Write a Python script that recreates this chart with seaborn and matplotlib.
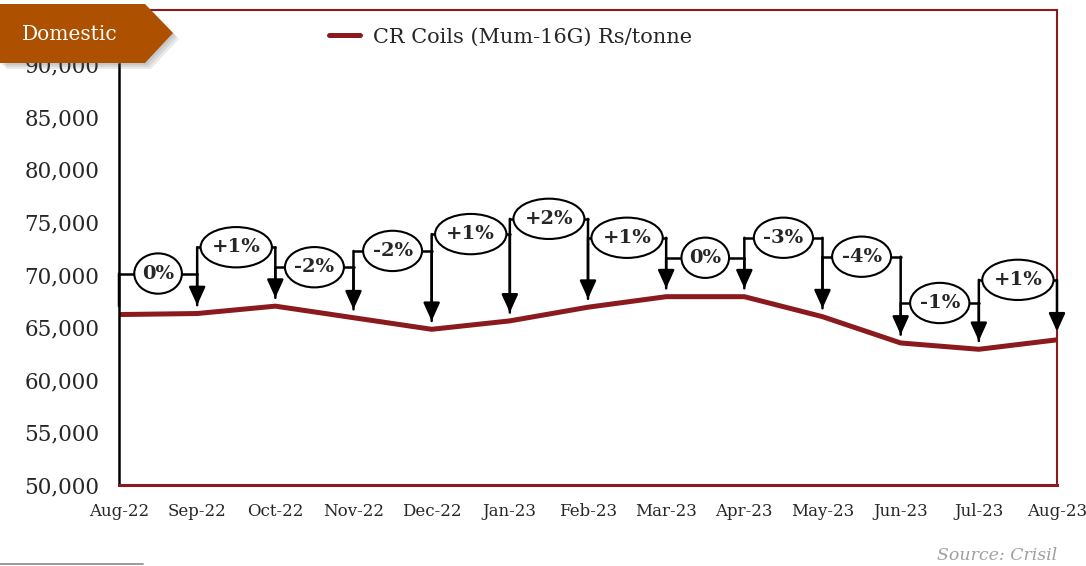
import pandas as pd
import matplotlib
matplotlib.use("Agg")
import matplotlib.pyplot as plt
from matplotlib.patches import Polygon
from matplotlib.lines import Line2D
from matplotlib.path import Path
from matplotlib.transforms import Affine2D
import seaborn as sns

# --- data ---
months = ["Aug-22", "Sep-22", "Oct-22", "Nov-22", "Dec-22", "Jan-23", "Feb-23",
          "Mar-23", "Apr-23", "May-23", "Jun-23", "Jul-23", "Aug-23"]
prices = [66200, 66300, 67000, 65900, 64800, 65600, 66900,
          67900, 67900, 66000, 63500, 62900, 63800]
change_labels = ["0%", "+1%", "-2%", "-2%", "+1%", "+2%",
                 "+1%", "0%", "-3%", "-4%", "-1%", "+1%"]
# height (on the price scale) at which each month-on-month bracket sits
bracket_levels = [70100, 72600, 70700, 72250, 73850, 75300,
                  73500, 71600, 73500, 71700, 67300, 69500]
y_ticks = [50000, 55000, 60000, 65000, 70000, 75000, 80000, 85000, 90000]

maroon = "#8B1A1F"
banner = "#AD5000"

sns.set_style("white")
plt.rcParams['font.family'] = ['DejaVu Serif']


def oval_box(x0, y0, width, height, mutation_size, padx=0.04, pady=0.27):
    # ellipse around the text, with separate x / y padding
    w = width + 2 * padx * mutation_size
    h = height + 2 * pady * mutation_size
    a, b = w / 2 ** 0.5, h / 2 ** 0.5
    tr = Affine2D().scale(a, b).translate(x0 + width / 2, y0 + height / 2)
    return tr.transform_path(Path.unit_circle())


df = pd.DataFrame({"idx": range(len(months)), "price": prices})

fig = plt.figure(figsize=(10.86, 5.66), dpi=100)
ax = fig.add_axes([119 / 1086, 1 - 485 / 566, (1057 - 119) / 1086, (485 - 10) / 566])

sns.lineplot(data=df, x="idx", y="price", ax=ax, color=maroon, lw=3.6,
             label="CR Coils (Mum-16G) Rs/tonne", zorder=2)

# month-on-month change brackets
for i in range(1, len(months)):
    lvl = bracket_levels[i - 1]
    x0, x1 = i - 1, i
    ax.plot([x0, x1], [lvl, lvl], color="black", lw=1.8, zorder=3)
    ax.annotate("", xy=(x0, prices[i - 1]), xytext=(x0, lvl),
                arrowprops=dict(arrowstyle="-", color="black", lw=1.8,
                                shrinkA=0, shrinkB=6), zorder=3)
    ax.annotate("", xy=(x1, prices[i]), xytext=(x1, lvl),
                arrowprops=dict(arrowstyle="-|>,head_length=0.55,head_width=0.25",
                                color="black", lw=1.8, shrinkA=0, shrinkB=6,
                                mutation_scale=20), zorder=3)
    ax.text((x0 + x1) / 2, lvl, change_labels[i - 1], ha="center", va="center",
            fontsize=14, fontweight="bold", zorder=5,
            bbox=dict(boxstyle=oval_box, fc="white", ec="black", lw=1.5))

ax.set_xlim(0, len(months) - 1)
ax.set_ylim(50000, 95150)
ax.set_xticks(range(len(months)))
ax.set_xticklabels(months, fontsize=12)
ax.set_yticks(y_ticks)
ax.set_yticklabels([f"{v:,}" for v in y_ticks], fontsize=15.5)
ax.set_xlabel("")
ax.set_ylabel("")

ax.tick_params(axis="x", direction="out", length=5, width=1.2, color=maroon, pad=8)
ax.tick_params(axis="y", direction="out", length=6, width=1.5, color="black", pad=8)

for side in ["top", "right"]:
    ax.spines[side].set_color(maroon)
    ax.spines[side].set_linewidth(1.5)
ax.spines["bottom"].set_color(maroon)
ax.spines["bottom"].set_linewidth(2.2)
ax.spines["left"].set_color("black")
ax.spines["left"].set_linewidth(1.8)
ax.spines["left"].set_bounds(50000, 90000)

leg = ax.legend(loc="center left", bbox_to_anchor=(329 / 1086, 1 - 37 / 566),
                bbox_transform=fig.transFigure, frameon=False, borderpad=0,
                borderaxespad=0, handlelength=1.5, handletextpad=0.6,
                fontsize=15)

# "Domestic" banner in the top-left corner
def fig_pts(pts):
    return [(x / 1086, 1 - y / 566) for x, y in pts]

shape = [(0, 4), (145, 4), (173, 33), (145, 63), (0, 63)]
for off in (2, 4, 6):
    shadow = [(x + off, y + off) for x, y in shape]
    fig.patches.append(Polygon(fig_pts(shadow), closed=True, fc="#555555", ec="none",
                               alpha=0.12, transform=fig.transFigure, zorder=10))
fig.patches.append(Polygon(fig_pts(shape), closed=True, fc=banner, ec="none",
                           transform=fig.transFigure, zorder=11))
fig.text(70 / 1086, 1 - 35 / 566, "Domestic", color="white", fontsize=14.5,
         ha="center", va="center", zorder=12)

fig.text(1057 / 1086, 1 - 556 / 566, "Source: Crisil", color="#A0A0A0",
         fontsize=12.5, style="italic", ha="right", va="center")
fig.add_artist(Line2D([0, 143 / 1086], [1 - 564 / 566] * 2, color="#8A8A8A",
                      lw=1.2, transform=fig.transFigure))

fig.savefig("out.png", dpi=100)
